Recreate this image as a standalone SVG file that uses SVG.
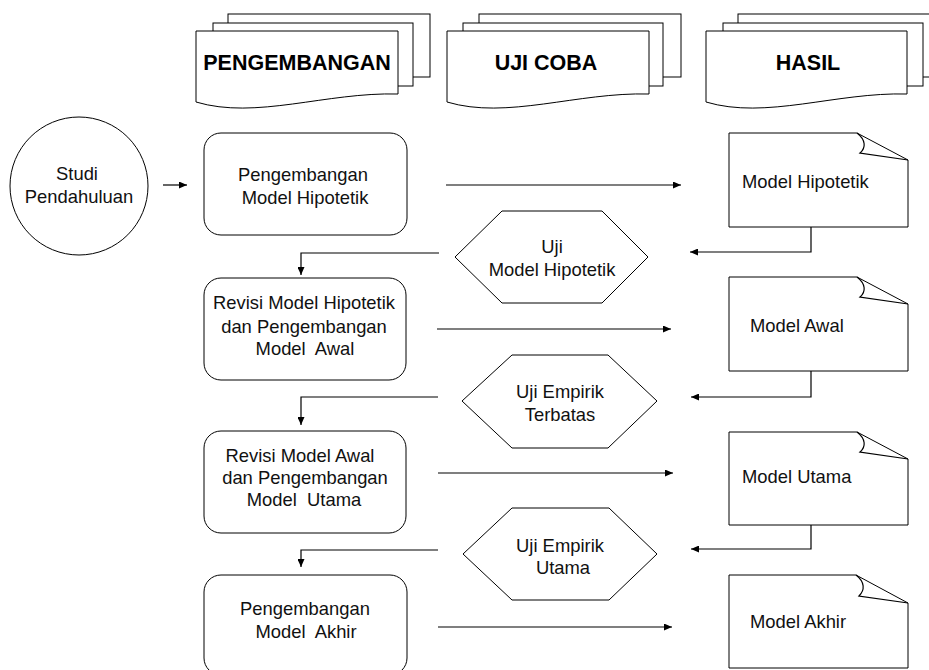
<svg xmlns="http://www.w3.org/2000/svg" width="929" height="670" viewBox="0 0 929 670">
<style>
.s{fill:#fff;stroke:#000;stroke-width:1}
.c{fill:none;stroke:#000;stroke-width:1.2}
.t{font-family:"Liberation Sans",Arial,sans-serif;font-size:18.4px;fill:#111;white-space:pre}
.m{text-anchor:middle}
.h{font-family:"Liberation Sans",Arial,sans-serif;font-size:21.5px;font-weight:bold;fill:#000;text-anchor:middle}
</style>
<defs>
<marker id="ah" viewBox="0 0 8 7" refX="8" refY="3.5" markerWidth="8" markerHeight="7" markerUnits="userSpaceOnUse" orient="auto">
<path d="M0,0 L8,3.5 L0,7 Z" fill="#000"/>
</marker>
</defs>
<rect width="929" height="670" fill="#fff"/>

<g id="header-pengembangan">
<rect class="s" x="228" y="14" width="202" height="63"/>
<rect class="s" x="213" y="23" width="200" height="63"/>
<path class="s" d="M196,31 H398 V94 C326,92 256,120 196,102 Z"/>
<text class="h" x="297" y="70">PENGEMBANGAN</text>
</g>
<g id="header-ujicoba">
<rect class="s" x="479" y="14" width="202" height="63"/>
<rect class="s" x="463" y="23" width="200" height="63"/>
<path class="s" d="M447,31 H649 V94 C577,92 507,120 447,102 Z"/>
<text class="h" x="546" y="70">UJI COBA</text>
</g>
<g id="header-hasil">
<rect class="s" x="738" y="14" width="202" height="63"/>
<rect class="s" x="723" y="23" width="200" height="63"/>
<path class="s" d="M706,31 H907 V94 C836,92 766,120 706,102 Z"/>
<text class="h" x="808" y="70">HASIL</text>
</g>

<g id="studi-pendahuluan">
<circle class="s" cx="79" cy="186" r="69"/>
<text class="t m" x="77" y="180">Studi</text>
<text class="t m" x="79" y="203">Pendahuluan</text>
</g>

<g id="box-pengembangan-hipotetik">
<rect class="s" x="204" y="133" width="203" height="102" rx="17"/>
<text class="t m" x="303" y="181">Pengembangan</text>
<text class="t m" x="305" y="204">Model Hipotetik</text>
</g>
<g id="box-revisi-hipotetik">
<rect class="s" x="204" y="278" width="202" height="102" rx="17"/>
<text class="t m" x="304" y="309">Revisi Model Hipotetik</text>
<text class="t m" x="304" y="333">dan Pengembangan</text>
<text class="t m" x="305" y="355" xml:space="preserve">Model  Awal</text>
</g>
<g id="box-revisi-awal">
<rect class="s" x="204" y="431" width="202" height="102" rx="17"/>
<text class="t m" x="300" y="462">Revisi Model Awal</text>
<text class="t m" x="305" y="484">dan Pengembangan</text>
<text class="t m" x="304" y="506" xml:space="preserve">Model  Utama</text>
</g>
<g id="box-pengembangan-akhir">
<rect class="s" x="204" y="575" width="203" height="100" rx="17"/>
<text class="t m" x="305" y="615">Pengembangan</text>
<text class="t m" x="306" y="638" xml:space="preserve">Model  Akhir</text>
</g>

<g id="hex-uji-hipotetik">
<polygon class="s" points="455,257 502,211 602,211 648,257 602,303 502,303"/>
<text class="t m" x="552" y="253">Uji</text>
<text class="t m" x="552" y="276">Model Hipotetik</text>
</g>
<g id="hex-uji-terbatas">
<polygon class="s" points="462,401 512,355 608,355 657,401 608,448 512,448"/>
<text class="t m" x="560" y="398">Uji Empirik</text>
<text class="t m" x="560" y="421">Terbatas</text>
</g>
<g id="hex-uji-utama">
<polygon class="s" points="463,554 512,508 609,508 657,554 609,600 512,600"/>
<text class="t m" x="560" y="552">Uji Empirik</text>
<text class="t m" x="563" y="574">Utama</text>
</g>

<g id="note-hipotetik">
<path class="s" d="M729,133 H857 L908,160 V227 H729 Z"/>
<path class="c" d="M857,133 C866,140 866,148 860,153 L908,160" stroke-width="1"/>
<text class="t" x="742" y="188">Model Hipotetik</text>
</g>
<g id="note-awal">
<path class="s" d="M729,277 H857 L908,304 V371 H729 Z"/>
<path class="c" d="M857,277 C866,284 866,292 860,297 L908,304" stroke-width="1"/>
<text class="t" x="750" y="332">Model Awal</text>
</g>
<g id="note-utama">
<path class="s" d="M729,432 H857 L908,459 V525 H729 Z"/>
<path class="c" d="M857,432 C866,439 866,447 860,452 L908,459" stroke-width="1"/>
<text class="t" x="742" y="483">Model Utama</text>
</g>
<g id="note-akhir">
<path class="s" d="M729,575 H856 L908,603 V668 H729 Z"/>
<path class="c" d="M856,575 C865,582 865,590 859,596 L908,603" stroke-width="1"/>
<text class="t" x="750" y="628">Model Akhir</text>
</g>

<g id="connectors">
<path class="c" d="M163,185 H187" marker-end="url(#ah)"/>
<path class="c" d="M446,185 H681" marker-end="url(#ah)"/>
<path class="c" d="M811,227 V252 H690" marker-end="url(#ah)"/>
<path class="c" d="M439,253 H301 V275" marker-end="url(#ah)"/>
<path class="c" d="M437,329 H671" marker-end="url(#ah)"/>
<path class="c" d="M811,371 V397 H691" marker-end="url(#ah)"/>
<path class="c" d="M438,397 H301 V425" marker-end="url(#ah)"/>
<path class="c" d="M438,473 H673" marker-end="url(#ah)"/>
<path class="c" d="M811,525 V549 H691" marker-end="url(#ah)"/>
<path class="c" d="M438,550 H301 V567" marker-end="url(#ah)"/>
<path class="c" d="M438,627 H672" marker-end="url(#ah)"/>
</g>
</svg>
